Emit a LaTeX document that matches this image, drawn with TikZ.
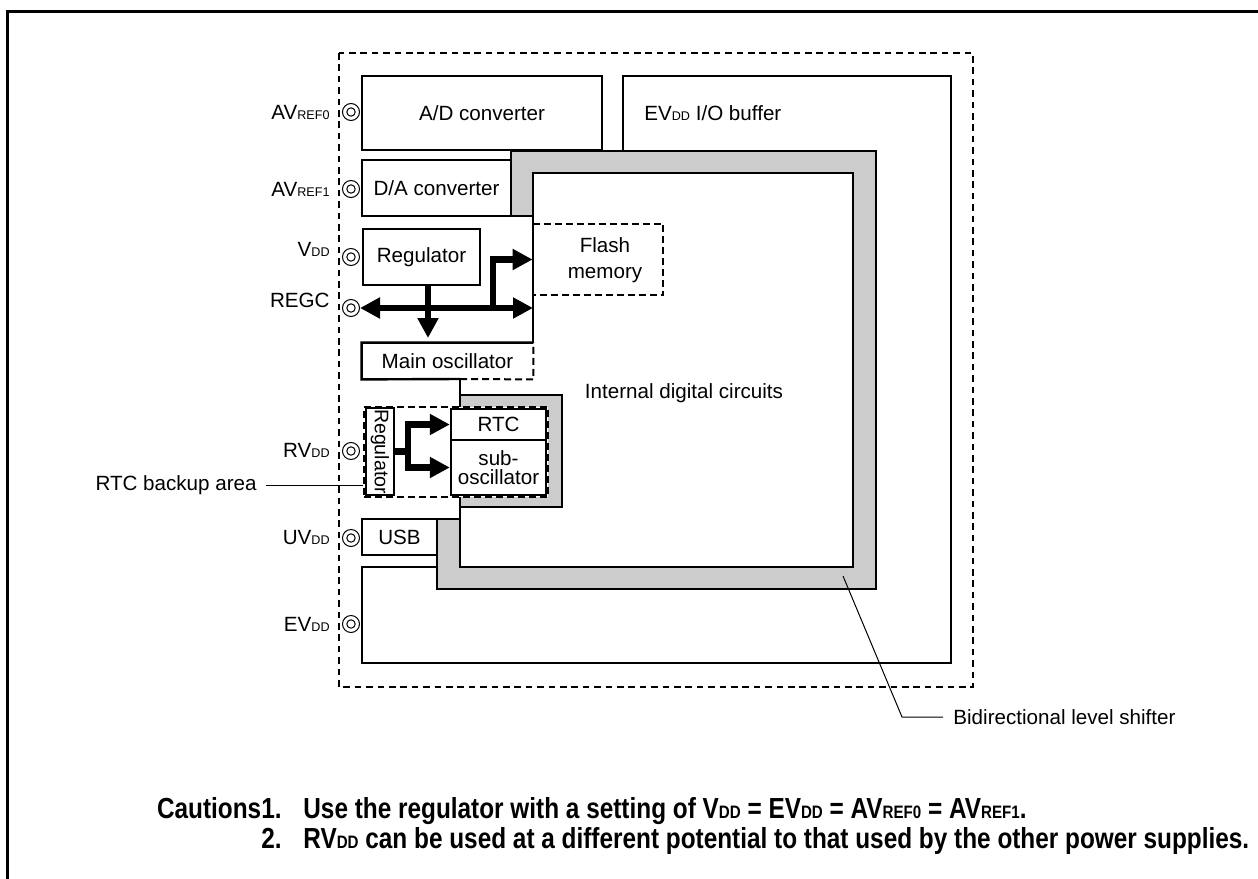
\documentclass[tikz,border=0pt]{standalone}
\usepackage{fontspec}
\setmainfont{Liberation Sans}
\newfontfamily\cautfont[FakeStretch=0.84]{Liberation Sans}
\usetikzlibrary{arrows.meta,positioning}
\newcommand{\lowsub}[1]{{\fontsize{6.3}{7}\selectfont #1}}
\newcommand{\cautsub}[1]{{\fontsize{9}{10}\selectfont #1}}

\begin{document}
\begin{tikzpicture}[x=0.5pt, y=-0.5pt,
  font=\fontsize{10.3}{12}\selectfont,
  blk/.style={draw, line width=1.2pt},
  box/.style={blk, fill=white, inner sep=0pt, align=center},
  dsh/.style={line width=1pt, dash pattern=on 3.5pt off 2pt},
  chip/.style={line width=1.1pt, dash pattern=on 3.3pt off 2.4pt},
  pin/.style={circle, draw, line width=0.5pt, fill=white, minimum size=8.5pt, inner sep=0pt,
    path picture={\draw[line width=0.5pt] (path picture bounding box.center) circle (2.1pt);}},
  pinlbl/.style={anchor=east, inner sep=0pt},
  bus/.style={line width=3.2pt, -{Triangle[length=10pt, width=10pt]}},
  lead/.style={line width=0.5pt},
  caut/.style={font=\cautfont\bfseries\fontsize{14.5}{16}\selectfont, inner sep=0pt}
]
\useasboundingbox (0,0) rectangle (1258,878);
\draw[line width=1.5pt] (7.5,900) -- (7.5,11.5) -- (1290,11.5);

\draw[chip] (339,53) rectangle (973,687);

% EVdd I/O buffer and level shifter
\draw[blk] (623,151) -- (623,76) -- (951,76) -- (951,663) -- (362,663) -- (362,567) -- (437,567);
\draw[blk, fill=black!20] (511,151) -- (876,151) -- (876,589) -- (437,589) -- (437,519) -- (460,519)
  -- (460,567) -- (853,567) -- (853,173) -- (533,173) -- (533,216) -- (511,216) -- cycle;

\coordinate (dtop) at (533,173);
\coordinate (dlow) at (460,379);
\draw[blk] (533,216) -- (533,343);
\draw[blk] (dlow) -- (460,519);

\node[box, minimum width=120pt, minimum height=37pt] (adc) at (482,113) {A/D converter};
\node[box, minimum width=74.5pt, minimum height=28pt] (dac) at (436.5,188) {D/A converter};
\node[box, minimum width=58.5pt, minimum height=28pt] (reg) at (421.5,257) {Regulator};
\node[box, minimum width=37.5pt, minimum height=18pt] (usb) at (399.5,537) {USB};

\node[inner sep=0pt, minimum width=85.5pt, minimum height=18pt] (mosc) at (447.5,361) {Main oscillator};
\draw[blk] (mosc.north east) -- (mosc.north west) -- (mosc.south west) -- (dlow);
\draw[dsh] (dlow) -- (mosc.south east) -- (mosc.north east);

\node[inner sep=0pt, minimum width=65pt, minimum height=35.5pt] (flash) at (598,259.5) {};
\node[align=center, inner sep=0pt, font=\fontsize{10.3}{13}\selectfont] (flashtxt) at (605,260) {Flash\\memory};
\draw[dsh] (flash.north west) -- (flash.north east) -- (flash.south east) -- (flash.south west);

% RTC backup area
\node[blk, fill=black!20, minimum width=51pt, minimum height=56pt, inner sep=0pt] (rtcsh) at (511,451) {};
\node[draw, dsh, fill=white, minimum width=92pt, minimum height=45pt, inner sep=0pt] (bkup) at (456,452) {};
\node[box, rotate=-90, minimum width=43.5pt, minimum height=14pt,
  font=\fontsize{9.8}{11}\selectfont] (rreg) at (380,451.5) {Regulator};
\node[box, minimum width=47.5pt, minimum height=15.5pt] (rtc) at (498.5,424.5) {RTC};
\node[box, minimum width=47.5pt, minimum height=27.5pt,
  font=\fontsize{10.3}{9.4}\selectfont] (subosc) at (498.5,467.5) {sub-\\oscillator};

% pins
\node[pin] (pavr0) at (351,112) {};
\node[pin] (pavr1) at (351,189) {};
\node[pin] (pvdd) at (351,257) {};
\node[pin] (pregc) at (351,308) {};
\node[pin] (prvdd) at (351,451) {};
\node[pin] (puvdd) at (351,538) {};
\node[pin] (pevdd) at (351,624) {};
\node[pinlbl] (lavr0) at (330,112) {AV\lowsub{REF0}};
\node[pinlbl] (lavr1) at (330,189) {AV\lowsub{REF1}};
\node[pinlbl] (lvdd) at (330,249) {V\lowsub{DD}};
\node[pinlbl] (lregc) at (330,300) {REGC};
\node[pinlbl] (lrvdd) at (330,450) {RV\lowsub{DD}};
\node[pinlbl] (luvdd) at (330,538) {UV\lowsub{DD}};
\node[pinlbl] (levdd) at (330,624) {EV\lowsub{DD}};

% power paths
\coordinate (drop) at (428,338);
\coordinate (fork) at (493,308);
\coordinate (rfork) at (408,451.5);
\draw[bus, {Triangle[length=10pt, width=10pt]}-{Triangle[length=10pt, width=10pt]}] (pregc.east) -- (pregc.east -| dtop);
\draw[bus] (reg.south -| drop) -- (drop);
\draw[bus] (fork) |- (flash.west);
\draw[line width=3.2pt] (rreg.north) -- (rfork);
\draw[bus] (rfork) |- (rtc.west);
\draw[bus] (rfork) |- (subosc.west);

\node[anchor=west, inner sep=0pt] (evtxt) at (644,113) {EV\lowsub{DD} I/O buffer};
\node (idc) at (684,393) {Internal digital circuits};

\node[anchor=east, inner sep=0pt] (bklbl) at (257,485) {RTC backup area};
\draw[lead, shorten <=4.5pt] (bklbl.east) -- (bklbl.east -| bkup.west);

\coordinate (lsin) at (843,576);
\coordinate (lsknee) at (902,717);
\node[anchor=west, inner sep=0pt] (lslbl) at (953,717) {Bidirectional level shifter};
\draw[lead, shorten <=5pt] (lslbl.west) -- (lsknee) -- (lsin);

\node[caut, anchor=base east] (c1no) at (282,818) {Cautions1.};
\node[caut, anchor=base west] (c1) at (303,818) {Use the regulator with a setting of V\cautsub{DD} = EV\cautsub{DD} = AV\cautsub{REF0} = AV\cautsub{REF1}.};
\node[caut, anchor=base east] (c2no) at (282,848) {2.};
\node[caut, anchor=base west] (c2) at (303,848) {RV\cautsub{DD} can be used at a different potential to that used by the other power supplies.};
\end{tikzpicture}
\end{document}
